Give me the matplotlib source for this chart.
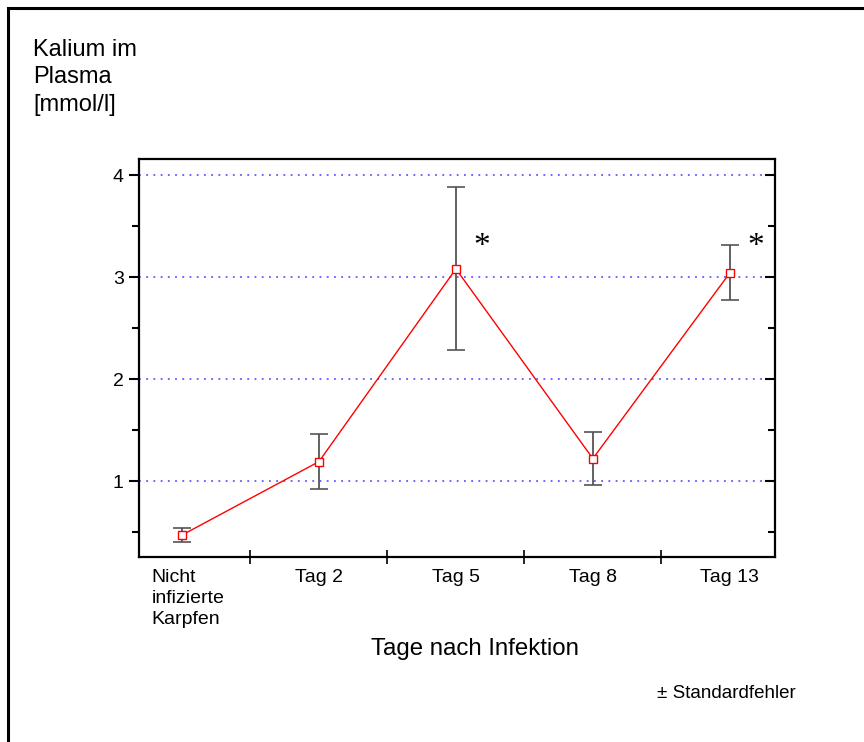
import numpy as np
import matplotlib.pyplot as plt
from matplotlib.patches import Rectangle
from matplotlib.transforms import ScaledTranslation

# Kalium im Plasma, Mittelwerte und Standardfehler
gruppen = ['Nicht\ninfizierte\nKarpfen', 'Tag 2', 'Tag 5', 'Tag 8', 'Tag 13']
kalium = [0.47, 1.19, 3.08, 1.22, 3.04]
fehler = [0.065, 0.27, 0.80, 0.26, 0.27]
signifikant = [False, False, True, False, True]

plt.rcParams['font.family'] = ['Liberation Sans', 'DejaVu Sans']

fig = plt.figure(figsize=(8.64, 7.42), dpi=100)
ax = fig.add_axes([139/864, 1-557/742, (775-139)/864, (557-159)/742])

x = np.arange(len(gruppen))

for yy in [1, 2, 3, 4]:
    ax.axhline(yy, color='#5c5cff', ls=(0, (1, 3)), lw=1.3, zorder=1)

eb = ax.errorbar(x, kalium, yerr=fehler, fmt='none', ecolor='#555555',
                 elinewidth=1.3, capsize=6.2, capthick=1.2, zorder=2)
for cap in eb[1]:
    cap.set_color('black')
ax.plot(x, kalium, color='red', lw=1.0, zorder=3)
ax.plot(x, kalium, ls='none', marker='s', ms=6, mfc='white', mec='red',
        mew=1.0, zorder=4)

for xi, yi, ei, s in zip(x, kalium, fehler, signifikant):
    if s:
        ax.text(xi + 0.19, 3.30, '*', fontsize=24, family='Liberation Serif',
                ha='center', va='center')

ax.set_xlim(-0.314, 4.33)
ax.set_ylim(0.255, 4.157)

ax.set_xticks(x)
ax.set_xticklabels(gruppen, fontsize=14, multialignment='left',
                   linespacing=1.3)
ax.set_xticks(x[:-1] + 0.5, minor=True)
ax.tick_params(axis='x', which='major', length=0, pad=9)
ax.tick_params(axis='x', which='minor', direction='inout', length=10, width=1.2)
# erste Beschriftung etwas nach rechts
lbl = ax.get_xticklabels()[0]
lbl.set_transform(lbl.get_transform() + ScaledTranslation(0.06, 0, fig.dpi_scale_trans))

ax.set_yticks([1, 2, 3, 4])
ax.set_yticklabels(['1', '2', '3', '4'], fontsize=14)
ax.set_yticks([0.5, 1.5, 2.5, 3.5], minor=True)
ax.tick_params(axis='y', which='major', direction='out', length=7, width=1.5,
               right=True, pad=4)
ax.tick_params(axis='y', which='minor', direction='out', length=5, width=1.5,
               right=True)
# rechte Achse: Striche nach innen
for t in ax.yaxis.get_major_ticks() + ax.yaxis.get_minor_ticks():
    t.tick2line.set_marker(0)

for sp in ax.spines.values():
    sp.set_linewidth(1.6)

fig.text(33/864, 1-39/742, 'Kalium im\nPlasma\n[mmol/l]', fontsize=17,
         ha='left', va='top', linespacing=1.32)
fig.text(475/864, 1-649/742, 'Tage nach Infektion', fontsize=17.3,
         ha='center', va='center')
fig.text(796/864, 1-693/742, '± Standardfehler', fontsize=13.5,
         ha='right', va='center')

fig.patches.append(Rectangle((8/864, -0.1), 1.2, 1 - 8/742 + 0.1,
                             transform=fig.transFigure, fill=False,
                             lw=2.2, ec='black'))

plt.savefig('out.png', dpi=100)
